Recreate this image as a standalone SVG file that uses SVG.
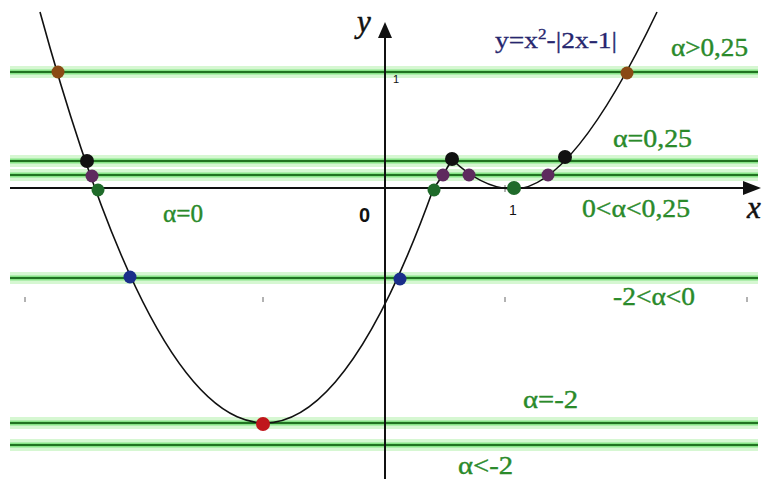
<svg xmlns="http://www.w3.org/2000/svg" width="774" height="479" viewBox="0 0 774 479">
<style>
.halo{stroke:#d6f7d2;stroke-width:12;fill:none}
.mid{stroke:#86e386;stroke-width:5;fill:none}
.core{stroke:#217321;stroke-width:2;fill:none}
.axis{stroke:#111;stroke-width:2;fill:none}
.curve{stroke:#111;stroke-width:1.6;fill:none;stroke-linejoin:round}
.tick{stroke:#666;stroke-width:1}
.lbl{font-size:25px;fill:#2a8a2a;stroke:#2a8a2a;stroke-width:0.4}
.ax{font-style:italic;font-size:31px;fill:#111;stroke:#111;stroke-width:0.5}
.num{fill:#111}
.brown{fill:#8a4a14}.black{fill:#111}.purple{fill:#5e2a5e}.green{fill:#1f6b2a}.blue{fill:#1a2e8a}.red{fill:#c0161c}
</style>
<rect width="774" height="479" fill="#fff"/>

<g id="levels">
  <g class="halo">
    <line x1="10" y1="72" x2="758" y2="72"/>
    <line x1="10" y1="161" x2="758" y2="161"/>
    <line x1="10" y1="175" x2="758" y2="175"/>
    <line x1="10" y1="278" x2="758" y2="278"/>
    <line x1="10" y1="423" x2="758" y2="423"/>
    <line x1="10" y1="445" x2="758" y2="445"/>
  </g>
  <g class="mid">
    <line x1="10" y1="72" x2="758" y2="72"/>
    <line x1="10" y1="161" x2="758" y2="161"/>
    <line x1="10" y1="175" x2="758" y2="175"/>
    <line x1="10" y1="278" x2="758" y2="278"/>
    <line x1="10" y1="423" x2="758" y2="423"/>
    <line x1="10" y1="445" x2="758" y2="445"/>
  </g>
  <g class="core">
    <line x1="10" y1="72" x2="758" y2="72"/>
    <line x1="10" y1="161" x2="758" y2="161"/>
    <line x1="10" y1="175" x2="758" y2="175"/>
    <line x1="10" y1="278" x2="758" y2="278"/>
    <line x1="10" y1="423" x2="758" y2="423"/>
    <line x1="10" y1="445" x2="758" y2="445"/>
  </g>
</g>

<g id="ticks" class="tick">
  <line x1="25" y1="297" x2="25" y2="302"/>
  <line x1="263" y1="297" x2="263" y2="302"/>
  <line x1="505" y1="297" x2="505" y2="302"/>
  <line x1="747" y1="297" x2="747" y2="302"/>
  <line x1="505" y1="185" x2="505" y2="192"/>
</g>

<g id="axes">
  <line class="axis" x1="10" y1="188" x2="746" y2="188"/>
  <polygon points="761,188 743,181 743,195" fill="#111"/>
  <line class="axis" x1="385" y1="479" x2="385" y2="35"/>
  <polygon points="385,22 378,38 392,38" fill="#111"/>
  <g font-family="Liberation Serif, Times New Roman, serif">
    <text class="ax" x="357" y="32">y</text>
    <text class="ax" x="747" y="218">x</text>
  </g>
  <g font-family="Liberation Sans, Arial, sans-serif">
    <text class="num" x="359" y="222" font-size="20" font-weight="bold">0</text>
    <text class="num" x="393" y="83" font-size="11">1</text>
    <text class="num" x="509" y="215" font-size="14">1</text>
  </g>
</g>

<g id="graph">
  <path class="curve" d="M40,12 Q237.6,733 433.3,189 L443,175 L452,159.5 Q483,189 514,189 Q572.4,189 657,12"/>
</g>

<g id="points">
  <circle class="brown" cx="58" cy="72" r="6.5"/>
  <circle class="brown" cx="627" cy="73" r="6.5"/>
  <circle class="black" cx="87" cy="161" r="7"/>
  <circle class="black" cx="452" cy="159" r="7"/>
  <circle class="black" cx="565" cy="157" r="7"/>
  <circle class="purple" cx="92" cy="176" r="6.5"/>
  <circle class="purple" cx="443" cy="175" r="6.5"/>
  <circle class="purple" cx="469" cy="175" r="6.5"/>
  <circle class="purple" cx="548" cy="175" r="6.5"/>
  <circle class="green" cx="98" cy="190" r="6.5"/>
  <circle class="green" cx="434" cy="190" r="6.5"/>
  <circle class="green" cx="514" cy="188" r="7"/>
  <circle class="blue" cx="130" cy="277" r="6.5"/>
  <circle class="blue" cx="400" cy="279" r="6.5"/>
  <circle class="red" cx="263" cy="424" r="7"/>
</g>

<g id="labels" font-family="Liberation Serif, Times New Roman, serif">
  <text x="495" y="48" font-size="24" fill="#26266e" stroke="#26266e" stroke-width="0.3" textLength="122" lengthAdjust="spacingAndGlyphs">y=x<tspan dy="-9" font-size="15">2</tspan><tspan dy="9">-|2x-1|</tspan></text>
  <text class="lbl" x="671" y="56" textLength="77" lengthAdjust="spacingAndGlyphs">α&gt;0,25</text>
  <text class="lbl" x="613" y="147" textLength="79" lengthAdjust="spacingAndGlyphs">α=0,25</text>
  <text class="lbl" x="582" y="217" textLength="108" lengthAdjust="spacingAndGlyphs">0&lt;α&lt;0,25</text>
  <text class="lbl" x="163" y="222" textLength="40" lengthAdjust="spacingAndGlyphs">α=0</text>
  <text class="lbl" x="613" y="305" textLength="82" lengthAdjust="spacingAndGlyphs">-2&lt;α&lt;0</text>
  <text class="lbl" x="523" y="408" textLength="55" lengthAdjust="spacingAndGlyphs">α=-2</text>
  <text class="lbl" x="458" y="474" textLength="55" lengthAdjust="spacingAndGlyphs">α&lt;-2</text>
</g>
</svg>
